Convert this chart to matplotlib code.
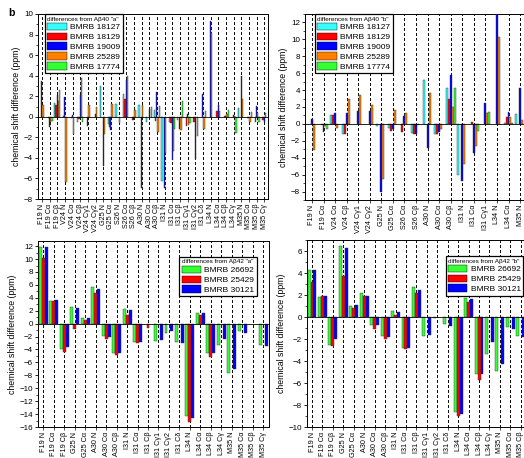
import numpy as np
import matplotlib
matplotlib.use('Agg')
import matplotlib.pyplot as plt
from matplotlib.ticker import MultipleLocator

plt.rcParams['font.family'] = ['Liberation Sans', 'DejaVu Sans']

nan = np.nan

# ---- panel data: differences from Abeta40 "a" ----
catsA = ['F19 N', 'F19 Cα', 'F19 Cβ', 'V24 N', 'V24 Cα', 'V24 Cβ', 'V24 Cγ1', 'V24 Cγ2',
         'G25 N', 'G25 Cα', 'S26 N', 'S26 Cα', 'S26 Cβ', 'A30 N', 'A30 Cα', 'A30 Cβ',
         'I31 N', 'I31 Cα', 'I31 Cβ', 'I31 Cγ1', 'I31 Cγ2', 'I31 Cδ', 'L34 N', 'L34 Cα',
         'L34 Cβ', 'L34 Cγ', 'M35 N', 'M35 Cα', 'M35 Cβ', 'M35 Cγ']
a_18127 = [nan, nan, 1.3, nan, nan, -0.5, nan, nan, 2.95, -0.7, 1.25, 2.2, nan, 1.15, -0.5,
           0.7, -6.2, -0.5, -0.3, nan, nan, nan, nan, nan, nan, nan, 0.85, nan, nan, nan]
a_18129 = [nan, -0.1, 1.1, 0.1, -0.1, -0.2, nan, nan, nan, -1.0, nan, 1.7, -0.3, nan, nan,
           -0.4, nan, -0.6, nan, -0.9, -0.5, nan, nan, 0.6, 0.1, nan, nan, -0.1, -0.5, -0.3]
a_19009 = [3.45, -1.0, 2.1, 1.9, 0.15, 2.1, -0.9, 0.25, -4.8, -1.3, nan, 3.6, -0.3, -6.9, 0.8,
           2.4, -6.9, -4.2, -1.2, 0.25, -4.1, 2.2, 9.3, 1.15, 0.1, 0.15, 4.0, -0.1, 1.05, -0.5]
a_25289 = [1.1, -0.5, 1.5, -6.3, -1.7, 3.8, 1.1, 1.0, -1.7, 1.2, -0.6, 3.95, 0.7, 1.1, nan,
           -1.45, -3.5, -3.3, -1.3, -0.8, nan, -1.2, 8.2, 0.6, 0.3, 0.05, 1.7, -0.5, 0.4, 0.4]
a_17774 = [nan, -0.4, 2.6, nan, nan, -0.5, nan, nan, nan, nan, nan, nan, nan, nan, 0.95,
           1.05, nan, -1.2, 1.55, -0.6, -1.9, 0.55, nan, nan, 0.65, -1.55, nan, 0.45, -0.5, nan]

# ---- differences from Abeta40 "b" ----
catsB = ['F19 N', 'F19 Cα', 'V24 Cα', 'V24 Cβ', 'V24 Cγ1', 'V24 Cγ2', 'G25 N', 'G25 Cα',
         'S26 Cα', 'S26 Cβ', 'A30 N', 'A30 Cα', 'A30 Cβ', 'I31 N', 'I31 Cα', 'I31 Cγ1',
         'L34 N', 'L34 Cα', 'M35 N']
b_18127 = [nan, nan, 1.0, -1.2, nan, nan, -0.3, -0.5, nan, -1.1, 5.2, -1.2, 4.2, -6.1, nan,
           nan, nan, 0.1, 1.2]
b_18129 = [nan, -0.1, 1.0, -1.2, nan, nan, nan, -0.8, -0.9, -1.25, nan, -1.2, 2.95, nan, 0.2,
           nan, nan, 0.8, nan]
b_19009 = [0.6, -1.0, 1.3, 1.3, 1.5, 1.5, -8.1, -0.6, 0.9, -1.2, -2.9, -1.0, 5.8, -6.8, -3.5,
           2.45, 13.0, 1.35, 4.3]
b_25289 = [-3.1, -0.3, -0.5, 3.0, 3.45, 2.2, -6.5, 1.7, 1.3, -0.15, 3.6, -0.6, 2.0, -4.8, -2.6,
           1.3, 10.3, 0.8, 0.5]
b_17774 = [nan, -0.65, nan, nan, nan, nan, nan, nan, nan, nan, nan, nan, 4.25, nan, -0.8,
           1.4, nan, 0.1, nan]

# ---- differences from Abeta42 "a" ----
catsC = ['F19 N', 'F19 Cα', 'F19 Cβ', 'G25 N', 'G25 Cα', 'A30 N', 'A30 Cα', 'A30 Cβ',
         'I31 N', 'I31 Cα', 'I31 Cβ', 'I31 Cγ1', 'I31 Cγ2', 'I31 Cδ', 'L34 N', 'L34 Cα',
         'L34 Cβ', 'L34 Cγ', 'M35 N', 'M35 Cα', 'M35 Cβ', 'M35 Cγ']
c_26692 = [11.8, 3.5, -4.0, 2.6, 0.85, 5.6, -1.9, -4.5, 2.3, -2.8, nan, -2.7, -1.4, -2.8,
           -14.3, 1.7, -4.6, -3.3, -7.6, -1.2, nan, -3.3]
c_25429 = [10.2, 3.5, -4.35, -0.8, 0.55, 4.7, -2.4, -4.9, 1.3, -3.0, -0.6, nan, nan, nan,
           -15.3, 1.3, -5.1, nan, nan, nan, nan, nan]
c_30121 = [11.8, 3.6, -3.6, 2.4, 0.9, 5.3, -2.0, -4.5, 2.1, -2.8, nan, -2.6, -1.2, -3.0,
           -14.6, 1.6, -4.5, -2.3, -7.0, -1.4, nan, -3.4]

# ---- differences from Abeta42 "b" ----
catsD = ['F19 N', 'F19 Cα', 'F19 Cβ', 'G25 N', 'G25 Cα', 'A30 N', 'A30 Cα', 'A30 Cβ',
         'I31 N', 'I31 Cα', 'I31 Cβ', 'I31 Cγ1', 'I31 Cγ2', 'I31 Cδ', 'L34 N', 'L34 Cα',
         'L34 Cβ', 'L34 Cγ', 'M35 N', 'M35 Cα', 'M35 Cβ']
d_26692 = [4.25, 1.8, -2.5, 6.5, 1.0, 2.2, -0.7, -1.75, 0.55, -2.85, 2.7, -1.7, -0.1, -0.6,
           -8.6, 1.7, -5.2, -3.4, -4.95, -0.95, -1.75]
d_25429 = [3.2, 1.9, -2.6, 3.75, 0.8, 1.95, -1.1, -2.0, 0.15, -2.95, 2.15, nan, nan, nan,
           -9.0, 1.4, -5.75, nan, nan, nan, nan]
d_30121 = [4.3, 1.95, -2.0, 6.3, 1.05, 1.95, -0.75, -1.8, 0.45, -2.8, 2.5, -1.65, nan, -0.85,
           -8.8, 1.65, -5.2, -2.25, -4.25, -1.05, -1.8]

labels40 = ['BMRB 18127', 'BMRB 18129', 'BMRB 19009', 'BMRB 25289', 'BMRB 17774']
colors40 = ['#33FFFF', '#FF0000', '#0000FF', '#FF8000', '#33FF33']
labels42 = ['BMRB 26692', 'BMRB 25429', 'BMRB 30121']
colors42 = ['#33FF33', '#FF0000', '#0000FF']

W, H = 524, 458
fig = plt.figure(figsize=(W / 100, H / 100), dpi=100)


def panel(box, cats, series, labels, colors, ylim, yticks, xlim, title, leg_anchor, leg_loc):
    l, r, t, b = box
    ax = fig.add_axes([l / W, 1 - b / H, (r - l) / W, (b - t) / H])
    ax.set_axisbelow(True)
    x = np.arange(len(cats))
    n = len(series)
    bw = 0.85 / n
    # missing shifts are simply left out of each series
    for k, vals in enumerate(series):
        v = np.asarray(vals, dtype=float)
        ok = ~np.isnan(v)
        ax.bar(x[ok] + (k - (n - 1) / 2) * bw, v[ok], bw, color=colors[k],
               edgecolor='#333333', linewidth=0.3, label=labels[k], zorder=3)
    ax.axhline(0, color='black', lw=0.6, zorder=4)
    ax.set_xlim(*xlim)
    ax.set_ylim(*ylim)
    ax.set_xticks(x)
    ax.set_xticklabels(cats, rotation=90, fontsize=5.2)
    ax.set_yticks(yticks)
    ax.yaxis.set_minor_locator(MultipleLocator(1))
    ax.tick_params(axis='y', labelsize=5.8, length=2.5, width=0.6, pad=1)
    ax.tick_params(axis='y', which='minor', length=1.3, width=0.5)
    ax.tick_params(axis='x', length=2, width=0.5, pad=1.5)
    # dashed guide at every category tick
    ax.grid(True, axis='x', linestyle=(0, (2, 2)), color='#111111', linewidth=0.9,
            antialiased=False)
    for s in ax.spines.values():
        s.set_linewidth(0.7)
    ax.set_ylabel('chemical shift difference (ppm)', fontsize=6.3, labelpad=2)
    leg = ax.legend(loc=leg_loc, bbox_to_anchor=leg_anchor, borderaxespad=0, fontsize=6,
                    title=title, title_fontsize=4.6, fancybox=False, framealpha=1,
                    edgecolor='black', handlelength=2.3, handleheight=1.0,
                    labelspacing=0.15, borderpad=0.3, handletextpad=0.4)
    leg.set_zorder(5)
    leg._legend_box.align = 'left'
    leg.get_frame().set_linewidth(0.9)
    for p in leg.get_patches():
        p.set_edgecolor('black')
        p.set_linewidth(0.3)
    return ax


panel((38, 268, 14, 199), catsA, [a_18127, a_18129, a_19009, a_25289, a_17774],
      labels40, colors40, (-8, 10), np.arange(-8, 11, 2), (-0.5, 29.5),
      'differences from Aβ40 "a"', (0.03, 1.0), 'upper left')

panel((305, 527, 14, 200), catsB, [b_18127, b_18129, b_19009, b_25289, b_17774],
      labels40, colors40, (-9, 13), np.arange(-8, 13, 2), (-0.6, 18.6),
      'differences from Aβ40 "b"', (0.045, 1.0), 'upper left')

panel((38, 268.5, 241, 427), catsC, [c_26692, c_25429, c_30121],
      labels42, colors42, (-16, 12.8), np.arange(-16, 13, 2), (-0.5, 21.5),
      'differences from Aβ42 "a"', (0.95, 0.914), 'upper right')

panel((306.8, 526, 240, 427), catsD, [d_26692, d_25429, d_30121],
      labels42, colors42, (-10, 7), np.arange(-10, 7, 2), (-0.5, 20.5),
      'differences from Aβ42 "b"', (0.987, 0.914), 'upper right')

fig.text(8 / W, 1 - 13 / H, 'b', fontsize=7.5, fontweight='bold', va='center', ha='left')

fig.savefig('out.png', dpi=100)
